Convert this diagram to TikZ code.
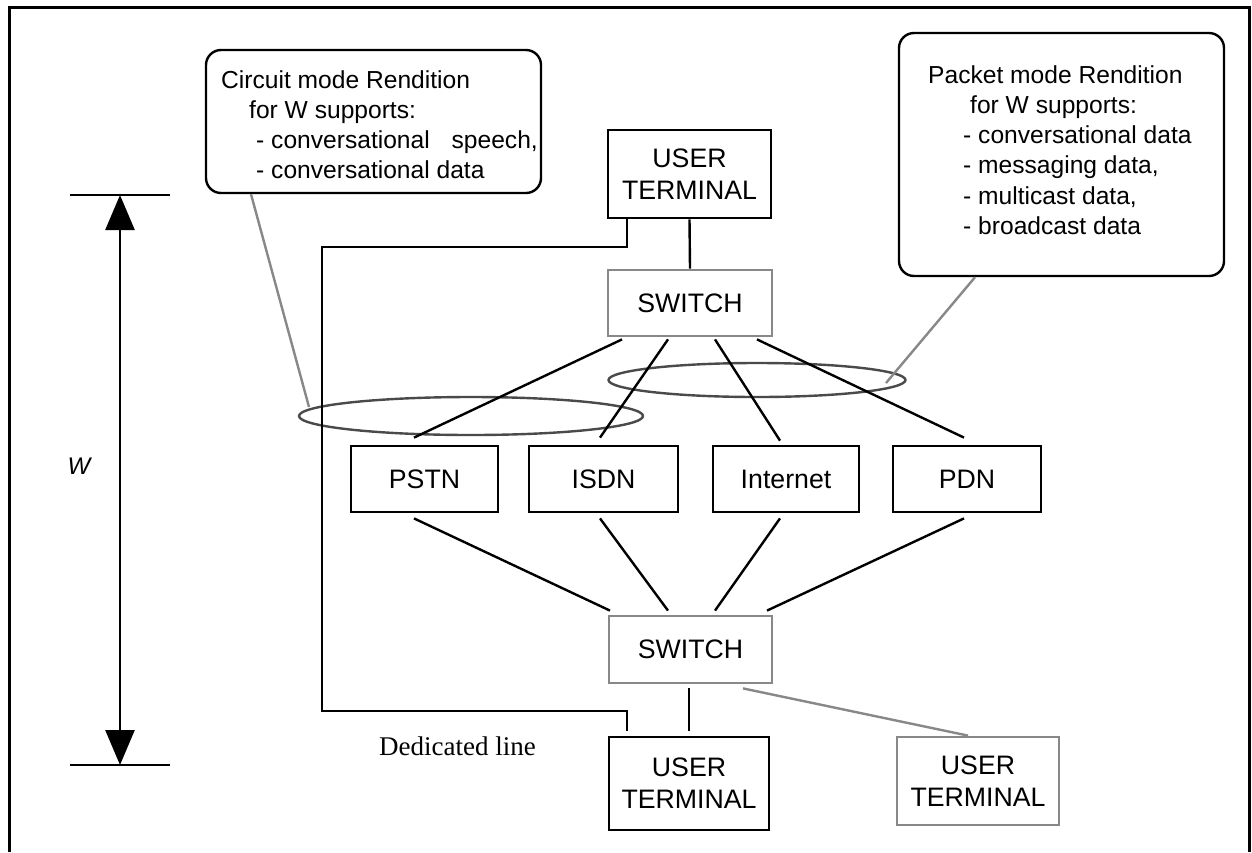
\documentclass[tikz,border=0pt]{standalone}
\usepackage{fontspec}
\setmainfont{Liberation Sans}
\newfontfamily\serifdl{Liberation Serif}
\usetikzlibrary{arrows.meta,calc,shapes.geometric}
\definecolor{grayc}{HTML}{888888}
\definecolor{ellc}{HTML}{4A4A4A}
\begin{document}
\begin{tikzpicture}[x=1pt,y=-1pt,
  box/.style={draw=black, line width=2.8pt, inner sep=0pt, align=center, font=\fontsize{26.7}{32}\selectfont},
  gbox/.style={box, draw=grayc},
  conn/.style={line width=2.4pt, draw=black},
  gconn/.style={line width=2.4pt, draw=grayc},
  callout/.style={draw=black, line width=2.4pt, rounded corners=15pt, inner sep=0pt},
  ctext/.style={anchor=north west, inner sep=0pt, align=left, font=\fontsize{24.6}{30.3}\selectfont},
  ell/.style={draw=ellc, line width=2.4pt, ellipse, inner sep=0pt}
]
\useasboundingbox (0,0) rectangle (1252,852);
\fill[white] (0,0) rectangle (1252,852);
% frame
\draw[line width=3pt] (9,852) -- (9,7) -- (1249,7) -- (1249,852);

% nodes
\node[box, minimum width=163pt, minimum height=88pt] (utTop) at (689.5,174) {USER\\TERMINAL};
\node[gbox, minimum width=164pt, minimum height=66pt] (swTop) at (690,303) {SWITCH};
\node[box, minimum width=147pt, minimum height=66pt] (pstn) at (424.5,479) {PSTN};
\node[box, minimum width=149pt, minimum height=66pt] (isdn) at (603.5,479) {ISDN};
\node[box, minimum width=146pt, minimum height=66pt] (inet) at (786,479) {Internet};
\node[box, minimum width=148pt, minimum height=66pt] (pdn) at (967,479) {PDN};
\node[gbox, minimum width=163pt, minimum height=67pt] (swBot) at (690.5,649.5) {SWITCH};
\node[box, minimum width=160pt, minimum height=93pt] (utBot) at (689,783.5) {USER\\TERMINAL};
\node[gbox, minimum width=162pt, minimum height=88pt] (utGray) at (978,781) {USER\\TERMINAL};

% callouts
\node[callout, minimum width=335pt, minimum height=143pt] (cL) at (373.5,121.5) {};
\node[ctext] (cLtext) at (221,70) {Circuit mode Rendition\\
\hspace*{28pt}for W supports:\\
\hspace*{35pt}- conversational\hspace{15pt} speech,\\
\hspace*{35pt}- conversational data};
\node[callout, minimum width=325pt, minimum height=243pt] (cR) at (1061.5,154.5) {};
\node[ctext] (cRtext) at (928,65) {Packet mode Rendition\\
\hspace*{42pt}for W supports:\\
\hspace*{35pt}- conversational data\\
\hspace*{35pt}- messaging data,\\
\hspace*{35pt}- multicast data,\\
\hspace*{35pt}- broadcast data};

% ellipses
\node[ell, minimum width=344pt, minimum height=38pt] (ellL) at (471,416) {};
\node[ell, minimum width=297pt, minimum height=34pt] (ellR) at (757,380) {};

% connectors
\draw[conn] (utTop.south) -- (swTop.north);
\draw[conn] ($(swTop.south)+(-68,2)$) -- ($(pstn.north)+(-10.5,-7)$);
\draw[conn] ($(swTop.south)+(-22,2)$) -- ($(isdn.north)+(-3.5,-7)$);
\draw[conn] ($(swTop.south)+(25,2)$) -- ($(inet.north)+(-6,-4)$);
\draw[conn] ($(swTop.south)+(67,2)$) -- ($(pdn.north)+(-3,-7)$);
\draw[conn] ($(pstn.south)+(-10.5,5)$) -- ($(swBot.north)+(-80.5,-4)$);
\draw[conn] ($(isdn.south)+(-3.5,5)$) -- ($(swBot.north)+(-22.5,-4)$);
\draw[conn] ($(inet.south)+(-6,5)$) -- ($(swBot.north)+(24.5,-4)$);
\draw[conn] ($(pdn.south)+(-3,5)$) -- ($(swBot.north)+(76.5,-4)$);
\draw[conn] ($(swBot.south)+(-1.5,4)$) -- ($(utBot.north)+(0,-5)$);
\draw[gconn] ($(swBot.south)+(52.5,4)$) -- ($(utGray.north)+(-10,0)$);

% dedicated line
\coordinate (dA) at (322,247);
\coordinate (dB) at (322,711);
\draw[conn] ($(utTop.south)+(-62.5,0)$) |- (dA) -- (dB) -| ($(utBot.north)+(-62,-5)$);
\node[font=\serifdl\fontsize{27}{30}\selectfont, anchor=base] (dl) at (457.5,755) {Dedicated line};

% callout connectors
\draw[gconn] ($(cL.south)+(-122.5,0)$) -- ($(ellL.center)+(-162,-9)$);
\draw[gconn] ($(cR.south)+(-86.5,0)$) -- ($(ellR.center)+(129,3)$);

% W dimension
\coordinate (wT) at (120,195);
\coordinate (wB) at (120,765);
\draw[line width=2pt] ($(wT)+(-50,0)$) -- ($(wT)+(50,0)$);
\draw[line width=2pt] ($(wB)+(-50,0)$) -- ($(wB)+(50,0)$);
\draw[line width=2.6pt, {Triangle[length=35pt,width=29pt]}-{Triangle[length=35pt,width=29pt]}] (wT) -- (wB);
\node[font=\fontsize{24}{24}\selectfont\itshape] (wlab) at (79,466) {W};
\end{tikzpicture}
\end{document}
